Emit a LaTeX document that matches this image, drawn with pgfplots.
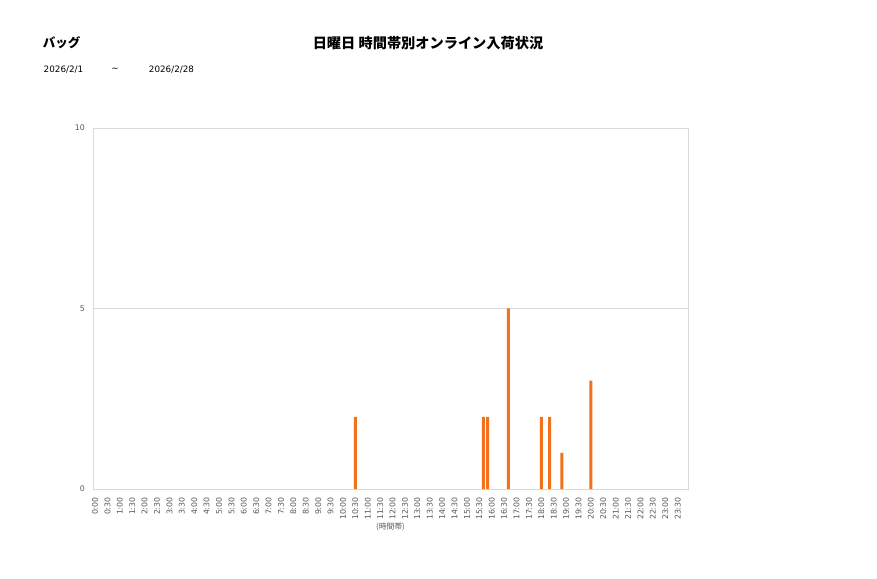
\documentclass[border=0pt]{standalone}
\usepackage{fontspec}
\setmainfont{Noto Sans CJK JP}
\newfontfamily\latinfont{DejaVu Sans}
\usepackage{pgfplots}
\pgfplotsset{compat=1.18}
\definecolor{barorange}{RGB}{242,113,28}
\definecolor{gridgray}{RGB}{217,217,217}
\definecolor{ticktext}{RGB}{89,89,89}

% bins of 10 minutes: index = hour*6 + minute/10
\pgfplotstableread{
bin count
63  2
94  2
95  2
100 5
108 2
110 2
113 1
120 3
}\arrivals

\begin{document}
\begin{tikzpicture}
\useasboundingbox[fill=white] (0,0) rectangle (877pt,578pt);

\node[font=\fontsize{12.5}{14}\selectfont\bfseries] at (61.5pt,535pt) {バッグ};
\node[font=\fontsize{14.2}{16}\selectfont\bfseries] at (428pt,535pt) {日曜日 時間帯別オンライン入荷状況};
\node[font=\latinfont\fontsize{8.8}{10}\selectfont] at (63.5pt,508pt) {2026/2/1};
\node[font=\latinfont\fontsize{8.8}{10}\selectfont] at (115pt,508pt) {\textasciitilde};
\node[font=\latinfont\fontsize{8.8}{10}\selectfont] at (171.5pt,508pt) {2026/2/28};

\begin{axis}[
    at={(93pt,89pt)}, anchor=south west,
    scale only axis, width=595pt, height=361pt,
    ybar, bar width=3pt,
    xmin=-0.5, xmax=143.5,
    ymin=0, ymax=10,
    ytick={0,5,10},
    ymajorgrids,
    grid style={gridgray, line width=0.8pt},
    axis line style={gridgray, line width=0.8pt},
    tick style={draw=none},
    xtick={0,3,...,141},
    xticklabels={0:00,0:30,1:00,1:30,2:00,2:30,3:00,3:30,4:00,4:30,5:00,5:30,6:00,6:30,7:00,7:30,8:00,8:30,9:00,9:30,10:00,10:30,11:00,11:30,12:00,12:30,13:00,13:30,14:00,14:30,15:00,15:30,16:00,16:30,17:00,17:30,18:00,18:30,19:00,19:30,20:00,20:30,21:00,21:30,22:00,22:30,23:00,23:30},
    x tick label style={rotate=90, anchor=east, font=\latinfont\fontsize{7.8}{8}\selectfont, text=ticktext, inner sep=1pt, xshift=-3pt},
    y tick label style={font=\latinfont\fontsize{7.8}{8}\selectfont, text=ticktext, inner sep=1pt, xshift=-7pt},
    /pgf/number format/assume math mode=true,
    xlabel={(時間帯)},
    xlabel style={font=\fontsize{7.8}{8}\selectfont, text=ticktext, yshift=2pt},
]
\addplot[draw=none, fill=barorange] table[x=bin, y=count] {\arrivals};
\end{axis}
\end{tikzpicture}
\end{document}
